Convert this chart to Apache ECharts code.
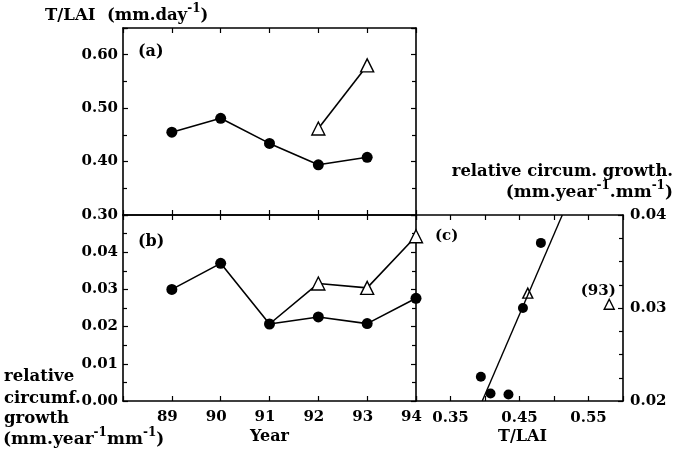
<!DOCTYPE html>
<html>
<head>
<meta charset="utf-8">
<script src="https://cdn.jsdelivr.net/npm/echarts@6/dist/echarts.min.js"></script>
<style>
  html, body { margin: 0; padding: 0; background: #fff; }
  #chart { width: 674px; height: 454px; }
</style>
</head>
<body>
<div id="chart"></div>
<script>
// years on the two left panels
const years = [89, 90, 91, 92, 93, 94];
const yearLabels = ['89', '90', '91', '92', '93', '94'];

// (a) T/LAI, filled circles for 89-93, open triangles for 92-93
const tlaiDots = [0.455, 0.481, 0.434, 0.394, 0.408];
const tlaiTriYears = [92, 93];
const tlaiTri = [0.462, 0.580];

// (b) relative circumference growth
const growthDots = [0.0300, 0.0370, 0.0207, 0.0226, 0.0208, 0.0276];
const growthTriYears = [91, 92, 93, 94];
const growthTri = [0.0207, 0.0316, 0.0304, 0.0443];

// (c) regression line end points (T/LAI, growth)
const fitLine = [[0.396, 0.020], [0.512, 0.040]];
const noteYear = 93;

// tick labels
const aYLabels = ['0.30', '0.40', '0.50', '0.60'];
const bYLabels = ['0.00', '0.01', '0.02', '0.03', '0.04'];
const cXLabels = ['0.35', '0.45', '0.55'];
const cYLabels = ['0.02', '0.03', '0.04'];

const FONT = '"DejaVu Serif", serif';
const BLACK = '#000';

const chart = echarts.init(document.getElementById('chart'));

const tickStyle = { color: BLACK, width: 1.2 };
const lineStyle = { color: BLACK, width: 1.6 };
const labelStyle = { color: BLACK, fontFamily: FONT, fontWeight: 'bold', fontSize: 15 };

function pick(list, digits) {
  return v => {
    const s = Number(v).toFixed(digits);
    return list.includes(s) ? s : '';
  };
}

function axis(opts) {
  const base = {
    type: 'value',
    axisLine: { show: true, onZero: false, lineStyle },
    axisTick: { show: true, inside: true, length: 5, lineStyle: tickStyle },
    splitLine: { show: false },
    axisLabel: { show: false }
  };
  return Object.assign(base, opts);
}

const xAxes = [
  axis({ gridIndex: 0, position: 'bottom', min: 88, max: 94, interval: 1 }),
  axis({ gridIndex: 0, position: 'top', min: 88, max: 94, interval: 1 }),
  axis({
    gridIndex: 1, position: 'bottom', min: 88, max: 94, interval: 1,
    axisLabel: Object.assign({ show: true, margin: 9, padding: [0, 9, 0, 0], formatter: pick(yearLabels, 0) }, labelStyle),
    name: 'Year', nameLocation: 'middle', nameGap: 28,
    nameTextStyle: Object.assign({}, labelStyle, { fontSize: 16 })
  }),
  axis({ gridIndex: 1, position: 'top', min: 88, max: 94, interval: 1 }),
  axis({
    gridIndex: 2, position: 'bottom', min: 0.30, max: 0.60, interval: 0.05,
    axisLabel: Object.assign({ show: true, margin: 10, formatter: pick(cXLabels, 2) }, labelStyle),
    name: 'T/LAI', nameLocation: 'middle', nameGap: 28,
    nameTextStyle: Object.assign({}, labelStyle, { fontSize: 16, padding: [0, 0, 0, 6] })
  }),
  axis({ gridIndex: 2, position: 'top', min: 0.30, max: 0.60, interval: 0.05 })
];

const minorA = { show: true, splitNumber: 2, length: 4, lineStyle: tickStyle };
const yAxes = [
  axis({
    gridIndex: 0, position: 'left', min: 0.30, max: 0.65, interval: 0.1, minorTick: minorA,
    axisLabel: Object.assign({ show: true, margin: 5, formatter: pick(aYLabels, 2) }, labelStyle)
  }),
  axis({ gridIndex: 0, position: 'right', min: 0.30, max: 0.65, interval: 0.1, minorTick: minorA }),
  axis({
    gridIndex: 1, position: 'left', min: 0, max: 0.05, interval: 0.01, minorTick: minorA,
    axisLabel: Object.assign({ show: true, margin: 5, formatter: pick(bYLabels, 2) }, labelStyle)
  }),
  axis({ gridIndex: 1, position: 'right', min: 0, max: 0.05, interval: 0.01, minorTick: minorA }),
  axis({ gridIndex: 2, position: 'left', min: 0.02, max: 0.04, interval: 0.01, show: false }),
  axis({
    gridIndex: 2, position: 'right', min: 0.02, max: 0.04, interval: 0.01,
    minorTick: { show: true, splitNumber: 4, length: 4, lineStyle: tickStyle },
    axisLabel: Object.assign({ show: true, margin: 7, formatter: pick(cYLabels, 2) }, labelStyle)
  })
];

const dot = (size) => ({ symbol: 'circle', symbolSize: size, itemStyle: { color: BLACK, opacity: 1 } });
const tri = (size) => ({
  symbol: 'triangle', symbolSize: size,
  itemStyle: { color: '#fff', borderColor: BLACK, borderWidth: 1.4, opacity: 1 }
});

const series = [
  Object.assign({
    type: 'line', xAxisIndex: 0, yAxisIndex: 0, clip: false,
    lineStyle: { color: BLACK, width: 1.6 },
    data: tlaiDots.map((v, i) => [years[i], v])
  }, dot(11)),
  Object.assign({
    type: 'line', xAxisIndex: 0, yAxisIndex: 0, clip: false,
    lineStyle: { color: BLACK, width: 1.6 },
    data: tlaiTri.map((v, i) => [tlaiTriYears[i], v])
  }, tri(13)),
  Object.assign({
    type: 'line', xAxisIndex: 2, yAxisIndex: 2, clip: false, z: 3,
    lineStyle: { color: BLACK, width: 1.6 },
    data: growthDots.map((v, i) => [years[i], v])
  }, dot(11)),
  Object.assign({
    type: 'line', xAxisIndex: 2, yAxisIndex: 2, clip: false, z: 2,
    lineStyle: { color: BLACK, width: 1.6 },
    data: growthTri.map((v, i) => {
      const y = growthTriYears[i];
      // the 91 point is the shared start, drawn as a circle by the other series
      return years.indexOf(y) < 3 ? { value: [y, v], symbol: 'none' } : [y, v];
    })
  }, tri(13)),
  // (c) scatter of growth against T/LAI, same years
  Object.assign({
    type: 'scatter', xAxisIndex: 4, yAxisIndex: 5, clip: false,
    data: tlaiDots.map((v, i) => [v, growthDots[i]])
  }, dot(10)),
  Object.assign({
    type: 'scatter', xAxisIndex: 4, yAxisIndex: 5, clip: false,
    data: tlaiTri.map((v, i) => {
      const y = tlaiTriYears[i];
      const g = growthTri[growthTriYears.indexOf(y)];
      if (y !== noteYear) return [v, g];
      return {
        value: [v, g],
        label: Object.assign({
          show: true, formatter: '(' + y + ')', position: 'top', distance: 0, offset: [-11, 0]
        }, labelStyle)
      };
    })
  }, tri(10)),
  {
    type: 'line', xAxisIndex: 4, yAxisIndex: 5, symbol: 'none',
    lineStyle: { color: BLACK, width: 1.4 },
    data: fitLine
  }
];

function supRich(size, supSize) {
  return {
    b: { fontFamily: FONT, fontWeight: 'bold', fontSize: size, lineHeight: size + 10, fill: BLACK },
    s: { fontFamily: FONT, fontWeight: 'bold', fontSize: supSize, lineHeight: supSize, verticalAlign: 'top', fill: BLACK }
  };
}

function txt(x, y, text, align, size) {
  return {
    type: 'text', x, y, silent: true,
    style: {
      text, fill: BLACK, font: 'bold ' + (size || 15) + 'px ' + FONT,
      textAlign: align || 'left', textVerticalAlign: 'middle'
    }
  };
}
function richTxt(x, y, text, align, size, supSize) {
  return {
    type: 'text', x, y, silent: true,
    style: { text, rich: supRich(size, supSize), textAlign: align || 'left', textVerticalAlign: 'middle' }
  };
}

chart.setOption({
  animation: false,
  backgroundColor: '#fff',
  grid: [
    { left: 123, top: 28, width: 293, height: 187 },
    { left: 123, top: 215, width: 293, height: 186 },
    { left: 416, top: 215, width: 207, height: 186 }
  ],
  xAxis: xAxes,
  yAxis: yAxes,
  series,
  graphic: [
    richTxt(45, 16, '{b|T/LAI  (mm.day}{s|-1}{b|)}', 'left', 16.5, 12),
    txt(138, 52, '(a)', 'left', 16),
    txt(138, 242, '(b)', 'left', 16),
    txt(435, 236, '(c)', 'left', 15),
    txt(673, 172, 'relative circum. growth.', 'right', 16.4),
    richTxt(673, 193, '{b|(mm.year}{s|-1}{b|.mm}{s|-1}{b|)}', 'right', 17, 12),
    txt(4, 377, 'relative', 'left', 16.5),
    txt(4, 399, 'circumf.', 'left', 16.5),
    txt(4, 419, 'growth', 'left', 16.5),
    richTxt(3, 440, '{b|(mm.year}{s|-1}{b|mm}{s|-1}{b|)}', 'left', 17, 12)
  ]
});
</script>
</body>
</html>
